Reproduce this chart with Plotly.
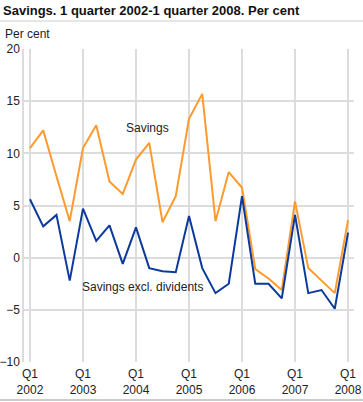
import plotly.graph_objects as go

quarters = list(range(25))
tick_positions = [0, 4, 8, 12, 16, 20, 24]
tick_labels = ["Q1<br>2002", "Q1<br>2003", "Q1<br>2004", "Q1<br>2005", "Q1<br>2006", "Q1<br>2007", "Q1<br>2008"]

savings = [10.5, 12.2, 7.8, 3.5, 10.5, 12.7, 7.3, 6.1, 9.4, 11.0, 3.4, 5.9,
           13.3, 15.7, 3.5, 8.2, 6.7, -1.1, -2.0, -3.1, 5.4, -1.0, -2.2, -3.4, 3.6]
savings_excl = [5.6, 3.0, 4.1, -2.2, 4.7, 1.6, 3.1, -0.6, 2.9, -1.0, -1.3, -1.4,
                4.0, -1.0, -3.4, -2.5, 5.9, -2.5, -2.5, -3.9, 4.1, -3.4, -3.1, -4.9, 2.4]

W, H = 363, 402
L, R, T, B = 24, 9, 49, 40
pw, ph = W - L - R, H - T - B

fig = go.Figure()
fig.add_trace(go.Scatter(x=quarters, y=savings, mode="lines",
                         line=dict(color="#ff9a2e", width=2), name="Savings"))
fig.add_trace(go.Scatter(x=quarters, y=savings_excl, mode="lines",
                         line=dict(color="#0b3a9c", width=2), name="Savings excl. dividents"))

fig.update_layout(
    width=W, height=H,
    margin=dict(l=L, r=R, t=T, b=B, autoexpand=False),
    paper_bgcolor="white", plot_bgcolor="white",
    showlegend=False,
    font=dict(family="Liberation Sans, Arial, sans-serif", size=12, color="#222"),
    title=dict(text="<b>Savings. 1 quarter 2002-1 quarter 2008. Per cent</b>",
               xref="container", yref="container", x=3 / W, y=1 - 10 / H,
               xanchor="left", yanchor="middle",
               font=dict(size=13, color="#111")),
    xaxis=dict(range=[-0.45, 24.45], tickvals=tick_positions, ticktext=tick_labels,
               showgrid=True, gridcolor="#dcdcdc", gridwidth=1.5, automargin=False,
               zeroline=False, showline=False, ticks="", ticklabelstandoff=3,
               tickfont=dict(size=12)),
    yaxis=dict(range=[-10, 20], tickvals=[-10, -5, 0, 5, 10, 15, 20],
               showgrid=True, gridcolor="#dcdcdc", gridwidth=1.5, automargin=False,
               zeroline=False, showline=True, linecolor="#dcdcdc", linewidth=1.5,
               ticks="", tickfont=dict(size=12)),
    annotations=[
        dict(text="Per cent", xref="paper", yref="paper",
             x=(3 - L) / pw, y=(H - B - 34) / ph, xanchor="left", yanchor="middle",
             showarrow=False, font=dict(size=12, color="#222")),
        dict(text="Savings", xref="x", yref="y", x=8.85, y=12.4,
             xanchor="center", yanchor="middle", showarrow=False,
             font=dict(size=12, color="#222")),
        dict(text="Savings excl. dividents", xref="x", yref="y", x=8.5, y=-2.8,
             xanchor="center", yanchor="middle", showarrow=False,
             font=dict(size=12, color="#222")),
    ],
    shapes=[
        dict(type="line", xref="paper", yref="paper",
             x0=-L / pw, x1=(W - L) / pw, y0=(H - B - 21) / ph, y1=(H - B - 21) / ph,
             line=dict(color="#cccccc", width=1)),
        dict(type="line", xref="paper", yref="paper",
             x0=-L / pw, x1=(W - L) / pw, y0=(H - B - 400) / ph, y1=(H - B - 400) / ph,
             line=dict(color="#cccccc", width=2)),
    ],
)

fig.write_html("out.html", config={"displayModeBar": False},
               post_script="document.body.style.margin='0';document.body.style.overflow='hidden';")
